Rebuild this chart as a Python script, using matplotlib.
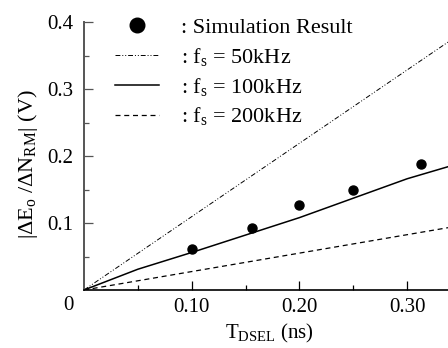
import matplotlib
matplotlib.use("Agg")
import matplotlib.pyplot as plt
from matplotlib.lines import Line2D

plt.rcParams['font.family'] = ['Liberation Serif', 'DejaVu Serif']
plt.rcParams['mathtext.fontset'] = 'custom'
plt.rcParams['mathtext.rm'] = 'Liberation Serif'
plt.rcParams['mathtext.it'] = 'Liberation Serif:italic'
plt.rcParams['mathtext.bf'] = 'Liberation Serif:bold'

# Data
sim_x = [0.100, 0.156, 0.200, 0.250, 0.3125]
sim_y = [0.061, 0.093, 0.127, 0.150, 0.188]

f50_x = [0.0, 0.338]
f50_y = [0.0, 0.370]

f100_x = [0.0, 0.05, 0.10, 0.15, 0.20, 0.25, 0.30, 0.338]
f100_y = [0.0, 0.031, 0.056, 0.082, 0.108, 0.137, 0.166, 0.184]

f200_x = [0.0, 0.338]
f200_y = [0.0, 0.093]

xticks = [0.10, 0.20, 0.30]
xtick_labels = ['0.10', '0.20', '0.30']
yticks = [0.1, 0.2, 0.3, 0.4]
ytick_labels = ['0.1', '0.2', '0.3', '0.4']

legend_labels = [': Simulation Result',
                 r': $\mathrm{f_s}$ = 50kHz',
                 r': $\mathrm{f_s}$ = 100kHz',
                 r': $\mathrm{f_s}$ = 200kHz']

fig = plt.figure(figsize=(4.48, 3.48), dpi=100)
ax = fig.add_axes([84/448, 58/348, 1 - 84/448, (290-22)/348])

dashdot = (0, (5, 2, 1, 2, 1, 2))
ax.plot(f50_x, f50_y, color='black', lw=0.7, linestyle=dashdot)
ax.plot(f100_x, f100_y, color='black', lw=1.1, linestyle='-')
ax.plot(f200_x, f200_y, color='black', lw=0.9, linestyle=(0, (4, 3)))
ax.plot(sim_x, sim_y, 'o', color='black', markersize=6.5, linestyle='none')

ax.set_xlim(0, 0.338)
ax.set_ylim(0, 0.4)

ax.set_xticks(xticks)
ax.set_xticklabels(xtick_labels)
ax.set_xticks([0.05, 0.15, 0.25], minor=True)
ax.set_yticks(yticks)
ax.set_yticklabels(ytick_labels)
ax.set_yticks([0.05, 0.15, 0.25, 0.35], minor=True)

ax.tick_params(axis='both', which='major', direction='in', length=6.5, width=0.9, labelsize=15, pad=7)
ax.tick_params(axis='x', which='major', pad=6)
ax.tick_params(axis='y', which='major', pad=8)
ax.tick_params(axis='both', which='minor', direction='in', length=3.5, width=0.9)
ax.tick_params(axis='y', which='both', color='#555555')

for s in ['top', 'right']:
    ax.spines[s].set_visible(False)
ax.spines['left'].set_color('#555555')
ax.spines['left'].set_linewidth(1.4)
ax.spines['bottom'].set_color('black')
ax.spines['bottom'].set_linewidth(1.2)

ax.text(-0.014, -0.023, '0', fontsize=15, ha='center', va='center')

ax.set_xlabel(r'$\mathrm{T_{DSEL}}$ (ns)', fontsize=15)
ax.xaxis.set_label_coords((269 - 84) / 364, (290 - 333) / 268)
ax.xaxis.label.set_va('center')
ax.set_ylabel(r'$|\Delta\mathrm{E_o}\ /\Delta\mathrm{N_{RM}}|$ (V)', fontsize=16)
ax.yaxis.set_label_coords((28 - 84) / 364, (290 - 164) / 268)
ax.yaxis.label.set_va('center')

handles = [
    Line2D([], [], marker='o', color='black', linestyle='none', markersize=10.5),
    Line2D([], [], color='black', lw=0.7, linestyle=dashdot),
    Line2D([], [], color='black', lw=1.1, linestyle='-'),
    Line2D([], [], color='black', lw=0.9, linestyle=(0, (4, 3))),
]
ax.legend(handles, legend_labels, loc='upper left', bbox_to_anchor=(0.043, 1.075),
          frameon=False, fontsize=16, handlelength=1.95, handletextpad=1.0,
          labelspacing=0.35, borderpad=0.2)

fig.savefig('out.png', dpi=100)
